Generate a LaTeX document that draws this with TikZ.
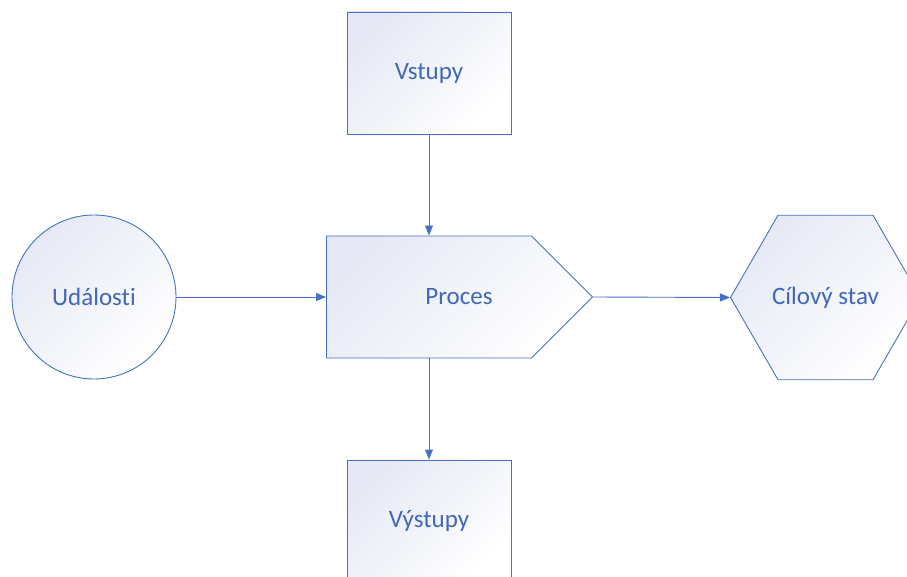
\documentclass[tikz,border=0pt]{standalone}
\usepackage{fontspec}
\setmainfont[Ligatures={NoCommon}]{Carlito}
\usetikzlibrary{shapes.geometric,shapes.symbols,arrows.meta}
\definecolor{ln}{HTML}{4472C4}
\definecolor{tx}{HTML}{4068B8}
\definecolor{fl}{HTML}{E6E9F5}
\begin{document}
\begin{tikzpicture}[x=1pt,y=-1pt,
  shp/.style={draw=ln,line width=0.9pt,top color=fl,bottom color=white,shading angle=45,
              text=tx,font=\fontsize{25}{30}\selectfont,inner sep=0pt},
  conn/.style={draw=ln,line width=0.9pt,-{Triangle[length=10pt,width=8pt]}}]
\useasboundingbox (0,0) rectangle (907,577);
\clip (0,0) rectangle (907,577);
\node[shp,rectangle,minimum width=164,minimum height=122] (vst) at (429,73) {Vstupy};
\node[shp,rectangle,minimum width=164,minimum height=122] (vys) at (429,521) {Výstupy};
\node[shp,signal,signal to=east,signal pointer angle=90,minimum width=266,minimum height=122] (proc) at (429,297) {\hspace*{60pt}Proces};
\node[shp,circle,minimum size=164] (ud) at (94,297) {Události};
\node[shp,regular polygon,regular polygon sides=6,minimum size=190] (cil) at (825.5,297.5) {Cílový stav};
\draw[conn] (vst.south) -- (vst.south |- proc.north);
\draw[conn] (vys.north |- proc.south) -- (vys.north);
\draw[conn] (ud.east) -- (proc.west);
\draw[conn] (proc.east) -- (cil.west);
\end{tikzpicture}
\end{document}
